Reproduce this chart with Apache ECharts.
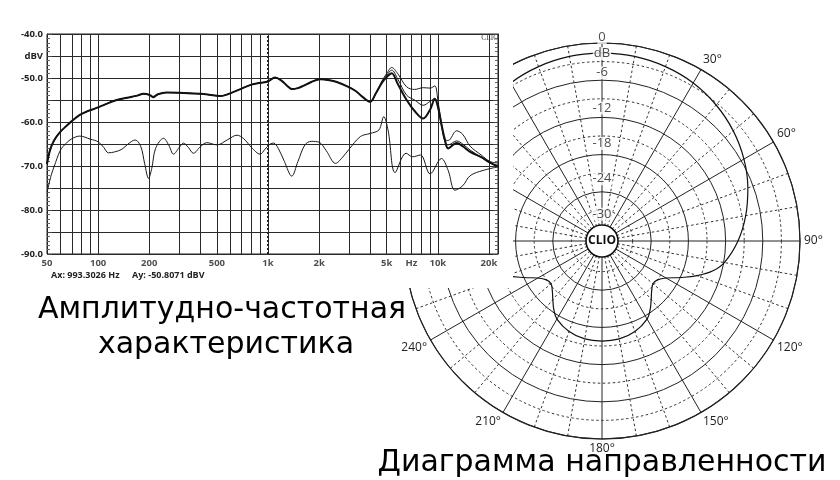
<!DOCTYPE html>
<html><head><meta charset="utf-8">
<script src="https://cdn.jsdelivr.net/npm/echarts@6/dist/echarts.min.js"></script>
<style>html,body{margin:0;padding:0;background:#fff}#c{width:840px;height:480px}</style>
</head><body><div id="c"></div>
<script>
// ---------- Frequency response data ----------
const upFreq = [50,52,55,60,65,70,78,86,98,110,126,148,170,185,200,211,225,253,320,400,450,520,560,623,700,800,900,1000,1100,1200,1300,1380,1500,1610,1800,2030,2300,2540,2970,3300,3600,4000,4300,4700,5000,5350,5800,6550,7300,8200,9000,9600,10000,10500,11000,11500,12900,14000,15500,18000,20300,22600];
const upDbA = [-69.5,-66.5,-64.2,-62.2,-60.9,-59.8,-58.4,-57.6,-56.8,-56.0,-55.1,-54.5,-54.0,-53.6,-53.8,-54.3,-53.7,-53.3,-53.4,-53.6,-53.8,-54.1,-53.9,-53.2,-52.4,-51.5,-51.1,-50.8,-49.9,-50.6,-51.8,-52.5,-52.3,-51.8,-50.9,-50.3,-50.5,-50.9,-52.0,-53.0,-54.3,-55.4,-53.6,-50.6,-49.0,-47.6,-49.0,-52.0,-52.6,-52.2,-52.3,-51.8,-55.0,-60.3,-64.0,-64.2,-62.0,-62.8,-65.5,-67.5,-69.0,-69.3];
const upDbB = [-69.5,-66.5,-64.2,-62.2,-60.9,-59.8,-58.4,-57.6,-56.8,-56.0,-55.1,-54.5,-54.0,-53.6,-53.9,-54.5,-53.7,-53.3,-53.4,-53.6,-53.8,-54.1,-53.9,-53.2,-52.4,-51.5,-51.1,-50.8,-49.9,-50.6,-51.8,-52.5,-52.3,-51.8,-50.9,-50.3,-50.5,-50.9,-52.0,-53.0,-54.3,-55.4,-53.6,-50.8,-49.4,-48.2,-50.2,-53.9,-55.0,-56.2,-55.3,-54.6,-56.5,-61.0,-64.5,-65.2,-64.3,-65.0,-66.4,-68.0,-69.4,-69.8];
const upDbC = [-69.5,-66.5,-64.2,-62.2,-60.9,-59.8,-58.4,-57.6,-56.8,-56.0,-55.1,-54.5,-54.0,-53.6,-53.8,-54.3,-53.7,-53.3,-53.4,-53.6,-53.8,-54.1,-53.9,-53.2,-52.4,-51.5,-51.1,-50.8,-49.9,-50.6,-51.8,-52.5,-52.3,-51.8,-50.9,-50.3,-50.5,-50.9,-52.0,-53.0,-54.3,-55.4,-53.6,-51.0,-49.8,-48.9,-51.3,-55.0,-57.5,-59.2,-57.2,-54.8,-56.5,-60.5,-64.0,-66.0,-64.8,-65.5,-66.8,-68.0,-69.2,-70.2];
const lowFreq = [50,53,55,60,65,70,78,90,100,108,115,125,138,150,165,178,188,198,207,218,243,260,278,300,318,340,364,400,437,500,580,656,720,800,899,960,1030,1080,1150,1250,1380,1500,1650,1800,2000,2200,2500,2750,3000,3500,4000,4500,4800,5100,5600,6500,7100,7900,9000,10500,11500,12600,14000,15500,18500,22600];
const lowDb = [-76.0,-72.0,-70.2,-66.4,-64.8,-63.8,-63.2,-63.9,-64.5,-65.8,-67.0,-66.8,-66.2,-65.0,-64.1,-65.5,-69.5,-72.8,-70.5,-66.0,-63.7,-65.2,-67.3,-65.8,-64.8,-65.8,-67.1,-65.6,-64.7,-65.2,-64.0,-63.0,-63.8,-65.8,-67.3,-66.2,-65.0,-64.8,-66.0,-69.0,-72.3,-69.0,-65.2,-64.4,-64.6,-66.5,-69.4,-68.0,-66.2,-63.3,-62.6,-61.8,-58.8,-62.0,-71.5,-67.1,-67.9,-67.5,-71.8,-68.3,-71.0,-75.5,-74.5,-72.2,-71.0,-70.2];
const gridFreqs = [60,70,80,90,100,200,300,400,500,600,700,800,900,1000,2000,3000,4000,5000,6000,7000,8000,9000,10000,20000];
const xTickFreqs = [50,100,200,500,1000,2000,5000,7000,10000,20000];
const xTickLabels = ['50','100','200','500','1k','2k','5k','Hz','10k','20k'];
const cursorHz = 993.3026;
const cursorDb = -50.8071;

// ---------- Polar pattern data ----------
const polarAngles = [0,10,20,30,40,50,60,70,80,90,100,105,110,115,120,125,130,135,140,145,150,160,170,180,190,200,210,215,220,225,230,235,240,245,250,255,260,270,280,290,300,310,320,330,340,350,360];
const polarDb = [-1.6,-1.7,-2.0,-2.5,-3.3,-4.3,-5.5,-6.9,-8.4,-10.0,-11.9,-13.4,-15.6,-18.0,-20.0,-21.0,-21.2,-20.6,-19.6,-18.4,-17.4,-16.4,-15.9,-15.8,-15.9,-16.4,-17.4,-18.4,-19.6,-20.6,-21.2,-21.0,-20.0,-18.0,-15.6,-13.4,-11.9,-10.0,-8.4,-6.9,-5.5,-4.3,-3.3,-2.5,-2.0,-1.7,-1.6];
const ringLabels = [0,-6,-12,-18,-24,-30];

const POLAR_CENTER = [602, 241];
const LABEL_FONT = 'Open Sans';

const chart = echarts.init(document.getElementById('c'), null, {renderer:'canvas'});

const zip = (xs, ys) => xs.map((x, i) => [x, ys[i]]);
const thin = {color:'#1a1a1a', width:1};

const option = {
  animation: false,
  backgroundColor: '#fff',
  grid: {left:47, top:34, width:451, height:220, show:true, borderColor:'#222', borderWidth:1, backgroundColor:'#fff', z:8},
  xAxis: {type:'log', logBase:10, min:50, max:22600, axisLine:{show:false}, axisTick:{show:false}, axisLabel:{show:false}, splitLine:{show:false}, z:8},
  yAxis: [
    {type:'value', min:-90, max:-40, interval:5, z:8,
     axisLine:{show:true, lineStyle:{color:'#222'}},
     axisTick:{show:true, inside:true, length:5, lineStyle:{color:'#444'}},
     minorTick:{show:true, splitNumber:5, length:3, lineStyle:{color:'#666'}},
     axisLabel:{margin:4, fontSize:9.5, fontWeight:'bold', fontFamily:LABEL_FONT, color:'#222',
       formatter: v => (v % 10 === 0 ? v.toFixed(1) : (v === -45 ? 'dBV' : ''))},
     splitLine:{show:true, lineStyle:{color:'#2a2a2a', width:1}}},
    {type:'value', min:-90, max:-40, interval:5, position:'right', z:8,
     axisLine:{show:true, lineStyle:{color:'#222'}},
     axisTick:{show:true, inside:true, length:5, lineStyle:{color:'#444'}},
     minorTick:{show:true, splitNumber:5, length:3, lineStyle:{color:'#666'}},
     axisLabel:{show:false}, splitLine:{show:false}}
  ],
  polar: {center: POLAR_CENTER, radius: [12, 198]},
  angleAxis: {type:'value', min:0, max:360, interval:30, startAngle:90, clockwise:true, z:1,
    axisLine:{show:true, lineStyle:{color:'#222', width:1.2}},
    axisTick:{show:false},
    minorTick:{show:false, splitNumber:3},
    axisLabel:{margin:4, fontSize:12, color:'#222', fontFamily:LABEL_FONT,
      formatter: v => (v === 0 || v === 360 ? '' : v + '°')},
    splitLine:{show:true, lineStyle:{color:'#222', width:1}},
    minorSplitLine:{show:true, lineStyle:{color:'#333', width:1, type:[2.5,2.5]}}},
  radiusAxis: {type:'value', min:-30, max:0, interval:6, z:1,
    axisLine:{show:false}, axisTick:{show:false}, axisLabel:{show:false},
    splitLine:{show:true, lineStyle:{color:'#222', width:1}},
    minorTick:{show:false, splitNumber:2},
    minorSplitLine:{show:true, lineStyle:{color:'#333', width:1, type:[2.5,2.5]}}},
  series: [
    {type:'line', coordinateSystem:'polar', z:2, smooth:0.4, showSymbol:false, silent:true,
     data: polarAngles.map((a, i) => [polarDb[i], a]),
     lineStyle:{color:'#111', width:1.2}},
    {type:'scatter', coordinateSystem:'polar', z:3, symbolSize:0, silent:true, clip:false,
     data: ringLabels.map(v => ({value:[v * 0.95 + 0.9, 0], label:{formatter: String(v)}})).concat([{value:[-1.7, 0], label:{formatter:'dB'}}]),
     label:{show:true, position:'inside', fontSize:13, fontFamily:LABEL_FONT, color:'#222', backgroundColor:'#fff', padding:[0,1], lineHeight:13}},
    {type:'line', xAxisIndex:0, yAxisIndex:0, z:9, silent:true, showSymbol:false,
     data: zip([50, 22600], [-90, -90]), lineStyle:{opacity:0},
     markLine:{silent:true, symbol:'none', label:{show:false}, animation:false, z:9,
       data: gridFreqs.map(f => ({xAxis:f, lineStyle:{color:'#2a2a2a', width:1, type:'solid'}}))
         .concat([{xAxis:cursorHz, lineStyle:{color:'#222', width:2, type:'dotted'}}])}},
    {type:'line', z:10, smooth:0.35, showSymbol:false, silent:true, data: zip(upFreq, upDbA), lineStyle:thin},
    {type:'line', z:10, smooth:0.35, showSymbol:false, silent:true, data: zip(upFreq, upDbB), lineStyle:thin},
    {type:'line', z:10, smooth:0.35, showSymbol:false, silent:true, data: zip(upFreq, upDbC), lineStyle:{color:'#111', width:2}},
    {type:'line', z:10, smooth:0.35, showSymbol:false, silent:true, data: zip(lowFreq, lowDb), lineStyle:thin},
    {type:'scatter', z:10, symbolSize:0, silent:true, clip:false,
     data: xTickFreqs.map((f, i) => ({value:[f, -90], label:{formatter: xTickLabels[i]}})),
     label:{show:true, position:'bottom', distance:4, fontSize:9.5, fontWeight:'bold', fontFamily:LABEL_FONT, color:'#222'}}
  ],
  graphic: [
    {type:'rect', z:6, silent:true, shape:{x:0, y:0, width:513, height:288}, style:{fill:'#fff'}},
    {type:'circle', z:4, silent:true, shape:{cx:POLAR_CENTER[0], cy:POLAR_CENTER[1], r:16}, style:{fill:'#fff', stroke:'#111', lineWidth:1.6}},
    {type:'text', z:5, silent:true, x:POLAR_CENTER[0], y:POLAR_CENTER[1], style:{text:'CLIO', fontSize:12, fontWeight:'bold', fontFamily:LABEL_FONT, fill:'#111', align:'center', verticalAlign:'middle'}},
    {type:'text', z:12, silent:true, x:490, y:38, style:{text:'CLIO', fontSize:7.5, fontFamily:'Liberation Serif', fill:'#444', align:'center', verticalAlign:'middle'}},
    {type:'text', z:12, silent:true, x:51, y:275, style:{text:'Ax: ' + cursorHz.toFixed(4) + ' Hz', fontSize:9, fontWeight:'bold', fontFamily:LABEL_FONT, fill:'#222', align:'left', verticalAlign:'middle'}},
    {type:'text', z:12, silent:true, x:132, y:275, style:{text:'Ay: ' + cursorDb.toFixed(4) + ' dBV', fontSize:9, fontWeight:'bold', fontFamily:LABEL_FONT, fill:'#222', align:'left', verticalAlign:'middle'}},
    {type:'text', z:20, silent:true, x:222, y:310, style:{text:'Амплитудно-частотная', fontSize:30, fontFamily:'DejaVu Sans', fill:'#000', align:'center', verticalAlign:'middle'}},
    {type:'text', z:20, silent:true, x:226, y:345, style:{text:'характеристика', fontSize:30, fontFamily:'DejaVu Sans', fill:'#000', align:'center', verticalAlign:'middle'}},
    {type:'text', z:20, silent:true, x:602, y:463, style:{text:'Диаграмма направленности', fontSize:30, fontFamily:'DejaVu Sans', fill:'#000', align:'center', verticalAlign:'middle'}}
  ]
};
chart.setOption(option);
</script></body></html>
